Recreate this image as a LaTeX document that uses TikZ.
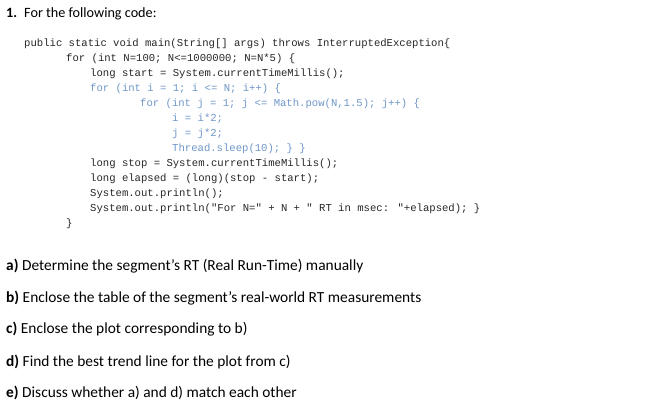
\documentclass[tikz,border=0pt]{standalone}
\usepackage{fontspec}
\setmainfont{Carlito}
\newfontfamily\codefont{Liberation Mono}
\definecolor{codeblue}{RGB}{110,150,200}
\begin{document}
\begin{tikzpicture}[x=1pt,y=-1pt,
  code/.style={anchor=base west,inner sep=0pt,font=\codefont\fontsize{10.6}{12}\selectfont,text=black!85},
  bcode/.style={code,text=codeblue},
  q/.style={anchor=base west,inner sep=0pt,font=\fontsize{15.4}{17}\selectfont},
  qt/.style={q,font=\fontsize{14.2}{16}\selectfont}]
\useasboundingbox (0,0) rectangle (650,419);
\node[qt] (t) at (6,18) {\textbf{1.}\hspace{7pt}For the following code:};
\node[code] (c1) at (24,47) {public static void main(String[] args) throws InterruptedException\{};
\node[code] (c2) at (66,62) {for (int N=100; N<=1000000; N=N*5) \{};
\node[code] (c3) at (90,77) {long start = System.currentTimeMillis();};
\node[bcode] (c4) at (90,92) {for (int i = 1; i <= N; i++) \{};
\node[bcode] (c5) at (140,107) {for (int j = 1; j <= Math.pow(N,1.5); j++) \{};
\node[bcode] (c6) at (172,122) {i = i*2;};
\node[bcode] (c7) at (172,137) {j = j*2;};
\node[bcode] (c8) at (172,152) {Thread.sleep(10); \} \}};
\node[code] (c9) at (90,167) {long stop = System.currentTimeMillis();};
\node[code] (c10) at (90,182) {long elapsed = (long)(stop - start);};
\node[code] (c11) at (90,197) {System.out.println();};
\node[code] (c12) at (90,212) {System.out.println("For N=" + N + " RT in msec: "+elapsed); \}};
\node[code] (c13) at (66,227) {\}};
\node[q] (a) at (6,271) {\textbf{a)} Determine the segment’s RT (Real Run-Time) manually};
\node[q] (b) at (6,303) {\textbf{b)} Enclose the table of the segment’s real-world RT measurements};
\node[q] (c) at (6,334) {\textbf{c)} Enclose the plot corresponding to b)};
\node[q] (d) at (6,366) {\textbf{d)} Find the best trend line for the plot from c)};
\node[q] (e) at (6,397) {\textbf{e)} Discuss whether a) and d) match each other};
\end{tikzpicture}
\end{document}
